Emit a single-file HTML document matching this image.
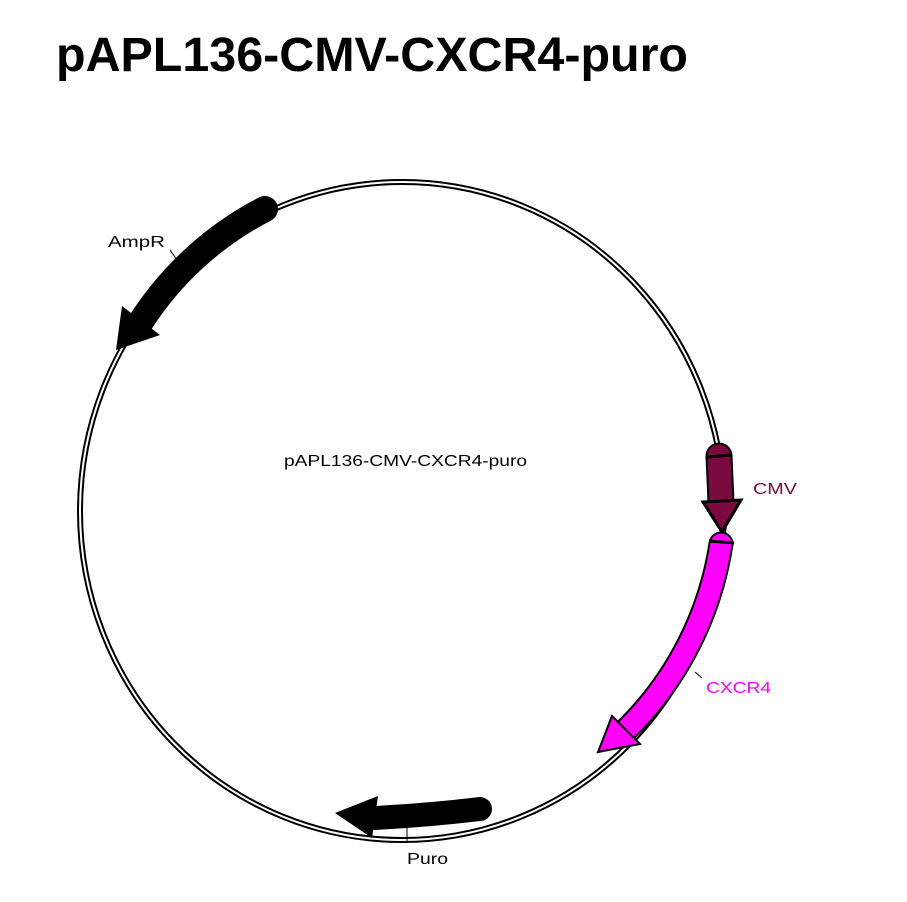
<!DOCTYPE html>
<html><head><style>
body{margin:0;background:#fff;width:907px;height:897px;overflow:hidden}
</style></head><body>
<svg width="907" height="897" viewBox="0 0 907 897" xmlns="http://www.w3.org/2000/svg">
<text x="56" y="71" font-family="Liberation Sans, sans-serif" font-weight="bold" font-size="48" fill="#000" textLength="632" lengthAdjust="spacingAndGlyphs">pAPL136-CMV-CXCR4-puro</text>
<ellipse cx="402" cy="511" rx="322" ry="329" fill="none" stroke="#000" stroke-width="6"/>
<ellipse cx="402" cy="511" rx="322" ry="329" fill="none" stroke="#fff" stroke-width="2"/>
<!-- AmpR -->
<path d="M265 209 A322 329 0 0 0 140 323" fill="none" stroke="#000" stroke-width="26" stroke-linecap="round"/>
<polygon points="122,306 160,335 116,350" fill="#000"/>
<line x1="170" y1="250" x2="177" y2="260" stroke="#000" stroke-width="1"/>
<text x="108" y="247" font-family="Liberation Sans, sans-serif" font-size="16" textLength="57" lengthAdjust="spacingAndGlyphs">AmpR</text>
<!-- CMV -->
<path d="M719 456 L721 502" fill="none" stroke="#000" stroke-width="27" stroke-linecap="round"/>
<path d="M719 456 L721 502" fill="none" stroke="#7a0a40" stroke-width="23" stroke-linecap="round"/>
<line x1="707" y1="457" x2="732" y2="455" stroke="#000" stroke-width="3"/>
<polygon points="703,502 741,500 722,532" fill="#7a0a40" stroke="#000" stroke-width="3"/>
<text x="753" y="494" font-family="Liberation Sans, sans-serif" font-size="16" fill="#7a0a40" textLength="44" lengthAdjust="spacingAndGlyphs">CMV</text>
<!-- CXCR4 -->
<path d="M721 544 A322 329 0 0 1 626 730" fill="none" stroke="#000" stroke-width="25" stroke-linecap="round"/>
<path d="M721 544 A322 329 0 0 1 626 730" fill="none" stroke="#ff00ff" stroke-width="21" stroke-linecap="round"/>
<line x1="709" y1="541" x2="734" y2="543" stroke="#000" stroke-width="3"/>
<polygon points="612,716 640,744 598,752" fill="#ff00ff" stroke="#000" stroke-width="2"/>
<line x1="695" y1="672" x2="702" y2="678" stroke="#000" stroke-width="1"/>
<text x="706" y="693" font-family="Liberation Sans, sans-serif" font-size="16" fill="#ff00ff" textLength="65" lengthAdjust="spacingAndGlyphs">CXCR4</text>
<!-- Puro -->
<path d="M480 809 Q430 815 375 818" fill="none" stroke="#000" stroke-width="24" stroke-linecap="round"/>
<polygon points="378,796 372,838 335,813" fill="#000"/>
<line x1="407" y1="828" x2="407" y2="843" stroke="#000" stroke-width="1"/>
<text x="407" y="864" font-family="Liberation Sans, sans-serif" font-size="16" textLength="41" lengthAdjust="spacingAndGlyphs">Puro</text>
<text x="284" y="466" font-family="Liberation Sans, sans-serif" font-size="16" textLength="243" lengthAdjust="spacingAndGlyphs">pAPL136-CMV-CXCR4-puro</text>
</svg>
</body></html>
